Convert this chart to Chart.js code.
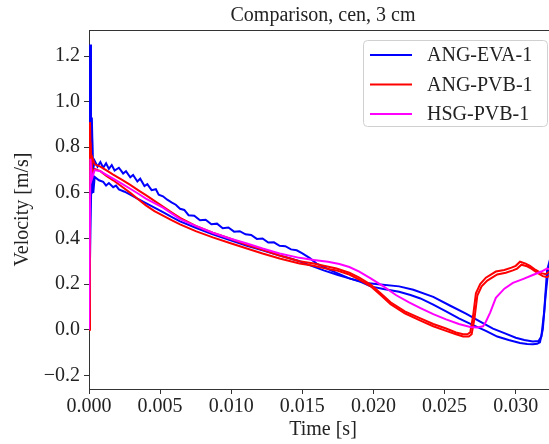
<!DOCTYPE html>
<html lang="en">
<head>
<meta charset="UTF-8">
<title>Comparison, cen, 3 cm</title>
<script src="https://cdn.jsdelivr.net/npm/chart.js"></script>
<style>
    html, body { margin: 0; padding: 0; background: #fff; overflow: hidden; }
    .wrap { width: 560px; height: 444px; }
</style>
</head>
<body>
<div class="wrap"><canvas id="velChart" width="560" height="444"></canvas></div>
<script>
// tick positions
const xTicks = [0, 0.005, 0.010, 0.015, 0.020, 0.025, 0.030];
const yTicks = [-0.2, 0, 0.2, 0.4, 0.6, 0.8, 1.0, 1.2];

const titleText = 'Comparison, cen, 3 cm';
const seriesNames = ['ANG-EVA-1', 'ANG-PVB-1', 'HSG-PVB-1'];
const seriesColors = ['#0000ff', '#ff0000', '#ff00ff'];

// ANG-EVA-1, two traces (time [s], velocity [m/s])
const tEvaA = [0, 0.00008, 0.00014, 0.0002, 0.00028, 0.0004, 0.0006, 0.0008, 0.001, 0.0012, 0.0014, 0.0016, 0.0018, 0.0021, 0.0024, 0.0026, 0.0029, 0.0031, 0.0034, 0.0036, 0.0039, 0.0041, 0.0044, 0.0047, 0.0049, 0.0052, 0.0055, 0.0058, 0.0061, 0.0064, 0.0067, 0.007, 0.0074, 0.0078, 0.0082, 0.0086, 0.009, 0.0094, 0.0098, 0.0102, 0.0106, 0.011, 0.0114, 0.0118, 0.0122, 0.0126, 0.013, 0.0134, 0.0138, 0.0142, 0.0146, 0.015, 0.0155, 0.016, 0.017, 0.0183, 0.0195, 0.0205, 0.0218, 0.0228, 0.0242, 0.0254, 0.0265, 0.0275, 0.0284, 0.0292, 0.03, 0.0306, 0.0312, 0.0316, 0.0318, 0.032, 0.0322, 0.0325];
const vEvaA = [0, 1.25, 0.78, 0.93, 0.70, 0.74, 0.715, 0.735, 0.71, 0.73, 0.705, 0.722, 0.698, 0.71, 0.685, 0.695, 0.668, 0.678, 0.65, 0.662, 0.63, 0.638, 0.612, 0.616, 0.592, 0.585, 0.57, 0.558, 0.548, 0.53, 0.525, 0.502, 0.5, 0.48, 0.482, 0.462, 0.465, 0.445, 0.448, 0.43, 0.432, 0.418, 0.415, 0.398, 0.4, 0.382, 0.383, 0.368, 0.366, 0.352, 0.348, 0.335, 0.315, 0.29, 0.26, 0.225, 0.205, 0.198, 0.19, 0.175, 0.144, 0.105, 0.07, 0.035, 0.005, -0.015, -0.035, -0.045, -0.052, -0.05, -0.03, 0.08, 0.26, 0.33];
const tEvaB = [0, 0.0001, 0.00015, 0.0002, 0.0003, 0.0004, 0.0007, 0.001, 0.0012, 0.0014, 0.0017, 0.0019, 0.0021, 0.0025, 0.0029, 0.0034, 0.004, 0.0046, 0.0052, 0.0058, 0.0064, 0.0075, 0.0087, 0.0099, 0.0111, 0.0122, 0.0134, 0.0141, 0.0148, 0.0155, 0.0165, 0.0175, 0.0183, 0.0191, 0.0198, 0.0207, 0.0218, 0.0226, 0.0233, 0.0242, 0.0251, 0.026, 0.027, 0.0279, 0.0287, 0.0295, 0.0303, 0.0308, 0.0312, 0.0315, 0.0317, 0.0319, 0.0321, 0.0323, 0.0326];
const vEvaB = [0, 0.43, 0.6, 0.88, 0.6, 0.67, 0.655, 0.648, 0.632, 0.643, 0.625, 0.632, 0.615, 0.605, 0.592, 0.575, 0.555, 0.535, 0.515, 0.495, 0.475, 0.447, 0.418, 0.393, 0.368, 0.348, 0.325, 0.313, 0.3, 0.283, 0.26, 0.24, 0.225, 0.21, 0.19, 0.178, 0.166, 0.152, 0.137, 0.11, 0.08, 0.05, 0.02, -0.005, -0.03, -0.045, -0.058, -0.063, -0.064, -0.062, -0.055, 0.0, 0.15, 0.27, 0.31];

// ANG-PVB-1, two traces
const tPvbA = [0, 0.00007, 0.00015, 0.0002, 0.0004, 0.0008, 0.0012, 0.0017, 0.0023, 0.0029, 0.0035, 0.004, 0.0046, 0.0052, 0.0058, 0.0064, 0.0075, 0.0087, 0.0099, 0.0111, 0.0122, 0.0134, 0.0148, 0.0158, 0.0165, 0.0174, 0.0183, 0.019, 0.0198, 0.0205, 0.0212, 0.0222, 0.0233, 0.0242, 0.0251, 0.0258, 0.0263, 0.0266, 0.0268, 0.027, 0.0272, 0.0275, 0.0279, 0.0286, 0.0292, 0.0297, 0.03, 0.0303, 0.0307, 0.031, 0.0314, 0.0318, 0.0321, 0.0325];
const vPvbA = [0, 0.91, 0.70, 0.76, 0.725, 0.715, 0.70, 0.68, 0.658, 0.635, 0.61, 0.59, 0.565, 0.54, 0.515, 0.49, 0.455, 0.425, 0.4, 0.372, 0.35, 0.325, 0.3, 0.29, 0.28, 0.268, 0.25, 0.228, 0.198, 0.16, 0.12, 0.08, 0.05, 0.025, 0.005, -0.012, -0.02, -0.02, -0.012, 0.06, 0.16, 0.2, 0.228, 0.255, 0.262, 0.272, 0.28, 0.298, 0.29, 0.28, 0.262, 0.248, 0.243, 0.26];
const tPvbB = [0, 0.0001, 0.0002, 0.0004, 0.0008, 0.0012, 0.0017, 0.0023, 0.0029, 0.0035, 0.004, 0.0046, 0.0052, 0.0058, 0.0064, 0.0075, 0.0087, 0.0099, 0.0111, 0.0122, 0.0134, 0.0148, 0.0158, 0.0165, 0.0174, 0.0183, 0.019, 0.0198, 0.0205, 0.0212, 0.0222, 0.0233, 0.0242, 0.0251, 0.0258, 0.0263, 0.0267, 0.0269, 0.0271, 0.0273, 0.0276, 0.028, 0.0287, 0.0293, 0.0298, 0.0301, 0.0304, 0.0308, 0.0311, 0.0315, 0.0319, 0.0322, 0.0326];
const vPvbB = [0, 0.82, 0.69, 0.705, 0.695, 0.675, 0.655, 0.628, 0.6, 0.57, 0.545, 0.52, 0.5, 0.48, 0.462, 0.432, 0.405, 0.38, 0.356, 0.334, 0.312, 0.29, 0.28, 0.27, 0.26, 0.242, 0.22, 0.19, 0.152, 0.112, 0.072, 0.04, 0.015, -0.005, -0.02, -0.03, -0.03, -0.02, 0.05, 0.15, 0.19, 0.215, 0.242, 0.25, 0.26, 0.268, 0.285, 0.278, 0.268, 0.25, 0.235, 0.23, 0.248];

// HSG-PVB-1
const tHsg = [0, 0.0001, 0.0002, 0.0004, 0.0008, 0.0012, 0.0017, 0.0023, 0.0029, 0.0035, 0.004, 0.0046, 0.0052, 0.0058, 0.0064, 0.0075, 0.0087, 0.0099, 0.0111, 0.0122, 0.0134, 0.0148, 0.0158, 0.0168, 0.0176, 0.0183, 0.019, 0.0198, 0.0207, 0.0216, 0.0225, 0.0233, 0.0242, 0.0251, 0.026, 0.0268, 0.0273, 0.0277, 0.0279, 0.0282, 0.0286, 0.0292, 0.0298, 0.0305, 0.0312, 0.0318, 0.0322, 0.0326];
const vHsg = [0, 0.75, 0.66, 0.70, 0.695, 0.68, 0.662, 0.64, 0.618, 0.595, 0.575, 0.555, 0.535, 0.51, 0.485, 0.455, 0.425, 0.4, 0.378, 0.356, 0.334, 0.315, 0.306, 0.298, 0.288, 0.275, 0.255, 0.225, 0.19, 0.151, 0.12, 0.095, 0.068, 0.045, 0.025, 0.012, 0.01, 0.015, 0.035, 0.075, 0.14, 0.18, 0.205, 0.222, 0.24, 0.255, 0.268, 0.262];

const FONT = '"Liberation Serif", "DejaVu Serif", "Times New Roman", serif';

function pts(t, v) {
    return t.map((x, i) => ({ x: x, y: v[i] }));
}

function trace(t, v, color, order) {
    return {
        data: pts(t, v),
        borderColor: color,
        borderWidth: 2,
        pointRadius: 0,
        tension: 0,
        fill: false,
        order: order
    };
}

// title, top spine and legend box, drawn like matplotlib does
const decor = {
    id: 'decor',
    afterDraw(chart) {
        const ctx = chart.ctx;
        const a = chart.chartArea;
        ctx.save();

        ctx.strokeStyle = '#333';
        ctx.lineWidth = 1;
        ctx.beginPath();
        ctx.moveTo(a.left, a.top + 0.5);
        ctx.lineTo(a.right, a.top + 0.5);
        ctx.stroke();

        ctx.fillStyle = '#222';
        ctx.font = '20px ' + FONT;
        ctx.textAlign = 'center';
        ctx.textBaseline = 'alphabetic';
        ctx.fillText(titleText, (a.left + a.right) / 2, 21);

        // legend
        const bx = a.right - 194, by = a.top + 10, bw = 184, bh = 86;
        ctx.beginPath();
        ctx.roundRect(bx + 0.5, by + 0.5, bw, bh, 4);
        ctx.fillStyle = 'rgba(255,255,255,0.8)';
        ctx.fill();
        ctx.strokeStyle = '#d0d0d0';
        ctx.stroke();

        ctx.textAlign = 'left';
        ctx.textBaseline = 'middle';
        seriesNames.forEach((name, i) => {
            const y = by + 15 + i * 29.5;
            ctx.strokeStyle = seriesColors[i];
            ctx.lineWidth = 2;
            ctx.beginPath();
            ctx.moveTo(bx + 7, y);
            ctx.lineTo(bx + 49, y);
            ctx.stroke();
            ctx.fillStyle = '#222';
            ctx.fillText(name, bx + 64, y + 1);
        });
        ctx.restore();
    }
};

const ctx = document.getElementById('velChart').getContext('2d');
new Chart(ctx, {
    type: 'line',
    data: {
        datasets: [
            trace(tEvaA, vEvaA, seriesColors[0], 3),
            trace(tEvaB, vEvaB, seriesColors[0], 3),
            trace(tPvbA, vPvbA, seriesColors[1], 2),
            trace(tPvbB, vPvbB, seriesColors[1], 2),
            trace(tHsg, vHsg, seriesColors[2], 1)
        ]
    },
    options: {
        responsive: false,
        animation: false,
        parsing: false,
        layout: { padding: { top: 30, right: 3, left: 0, bottom: 0 } },
        plugins: {
            legend: { display: false },
            title: { display: false },
            tooltip: { enabled: false }
        },
        scales: {
            x: {
                type: 'linear',
                min: 0,
                max: 0.0329,
                afterBuildTicks: s => { s.ticks = xTicks.map(v => ({ value: v })); },
                afterFit: s => { s.height = 55; },
                grid: { drawOnChartArea: false, drawTicks: true, tickLength: 5, tickColor: '#333' },
                border: { display: true, color: '#333', width: 1 },
                ticks: {
                    font: { family: FONT, size: 20 },
                    color: '#222',
                    padding: 1,
                    maxRotation: 0,
                    autoSkip: false,
                    callback: v => v.toFixed(3)
                },
                title: {
                    display: true,
                    text: 'Time [s]',
                    font: { family: FONT, size: 20 },
                    color: '#222',
                    padding: { top: 0, bottom: 2 }
                }
            },
            y: {
                min: -0.26,
                max: 1.314,
                afterBuildTicks: s => { s.ticks = yTicks.map(v => ({ value: v })); },
                afterFit: s => { s.width = 89; },
                grid: { drawOnChartArea: false, drawTicks: true, tickLength: 5, tickColor: '#333' },
                border: { display: true, color: '#333', width: 1 },
                ticks: {
                    font: { family: FONT, size: 20 },
                    color: '#222',
                    padding: 4,
                    callback: v => (v < -1e-9 ? '\u2212' + Math.abs(v).toFixed(1) : Math.abs(v).toFixed(1))
                },
                title: {
                    display: true,
                    text: 'Velocity [m/s]',
                    font: { family: FONT, size: 20 },
                    color: '#222',
                    padding: { top: 11, bottom: 0 }
                }
            }
        }
    },
    plugins: [decor]
});
</script>
</body>
</html>
